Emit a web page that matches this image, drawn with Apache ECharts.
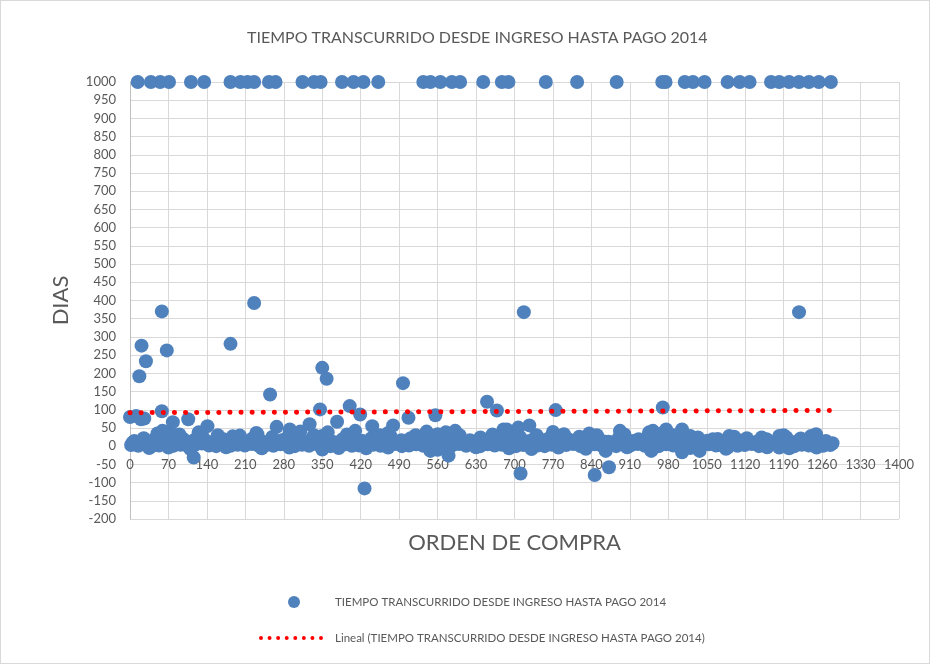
<!DOCTYPE html>
<html>
<head>
<meta charset="utf-8">
<script src="https://cdn.jsdelivr.net/npm/echarts@6/dist/echarts.min.js"></script>
<style type="text/css">
    *{
        padding: 0;
        margin: 0;
    }
    body{
        background: #fff;
        overflow: hidden;
    }
    #chart{
        width: 930px;
        height: 664px;
        box-sizing: border-box;
        border: 1px solid #d9d9d9;
    }
</style>
</head>
<body>
<div id="chart"></div>
<script type="text/javascript">
    // orden de compra con 1000 dias (sin pago)
    let topX = [14, 38, 55, 71, 111, 135, 183, 201, 214, 226, 253, 265, 314, 335, 347, 386, 407, 425, 452,
        534, 547, 565, 586, 601, 643, 677, 689, 757, 814, 886, 969, 975, 1010, 1025, 1046, 1088, 1110, 1128,
        1167, 1182, 1200, 1218, 1236, 1254, 1276];

    // valores altos / bajos fuera de la banda
    let outlierPts = [[0, 80], [11, 83], [20, 74], [26, 76], [17, 192], [21, 276], [29, 233], [58, 370], [58, 96],
        [67, 263], [226, 393], [183, 281], [255, 142], [350, 215], [358, 185], [346, 101], [497, 173], [400, 110],
        [419, 87], [427, -116], [650, 122], [668, 98], [116, -31], [580, -26], [547, -13], [106, 74], [78, 66],
        [141, 55], [267, 53], [377, 67], [507, 78], [556, 85], [479, 57], [441, 55], [291, 46], [327, 60],
        [592, 42], [680, 46], [59, 42], [232, 33], [717, 368], [1218, 368], [775, 99], [970, 106], [711, -75],
        [846, -79], [872, -58], [727, 57], [707, 51], [892, 42], [836, 35], [770, 39], [1005, 46], [952, 42],
        [976, 46], [1091, 28], [1182, 28], [1249, 33], [1221, 21], [1005, -17], [949, -13], [866, -13],
        [731, -8], [1037, -13], [1088, -4], [1182, -4], [1279, 8], [749, 15], [813, 10], [919, 15], [1061, 19], [686, 46]];

    // banda principal (0 a 45 dias)
    let bandLow = [[2, 3], [15, 1], [28, 5], [40, 0], [53, 2], [66, 6], [79, 1], [92, 4], [105, 0], [118, 3], [131, 7],
        [144, 2], [157, 0], [170, 5], [183, 1], [196, 4], [209, 2], [222, 6], [235, 0], [248, 3], [261, 1], [274, 5],
        [287, 2], [300, 0], [313, 4], [326, 1], [339, 6], [352, 2], [365, 0], [378, 3], [391, 5], [404, 1], [417, 2],
        [430, 0], [443, 4], [456, 1], [469, 3], [482, 6], [495, 0], [508, 2], [521, 5], [534, 1], [547, 3], [560, 0],
        [573, 4], [586, 2], [599, 6], [612, 1], [625, 3], [638, 0], [651, 5], [664, 2], [677, 4], [690, 1], [703, 0],
        [716, 3], [729, 5], [742, 2], [755, 0], [768, 4], [781, 1], [794, 3], [807, 6], [820, 0], [833, 2], [846, 5],
        [859, 1], [872, 3], [885, 0], [898, 4], [911, 2], [924, 6], [937, 1], [950, 3], [963, 0], [976, 5], [989, 2],
        [1002, 4], [1015, 1], [1028, 0], [1041, 3], [1054, 5], [1067, 2], [1080, 0], [1093, 4], [1106, 1], [1119, 3],
        [1132, 6], [1145, 0], [1158, 2], [1171, 5], [1184, 1], [1197, 3], [1210, 0], [1223, 4], [1236, 2], [1249, 6],
        [1262, 1], [1275, 3]];
    let bandFill = [[5, 10], [21, 8], [34, 12], [47, 9], [59, 11], [73, 8], [86, 13], [99, 9], [112, 11], [126, 10],
        [139, 12], [151, 8], [164, 11], [177, 9], [190, 12], [203, 10], [216, 8], [229, 13], [241, 9], [254, 11],
        [268, 10], [281, 8], [293, 12], [306, 9], [319, 11], [332, 10], [345, 13], [358, 8], [371, 11], [384, 9],
        [397, 12], [410, 10], [424, 8], [436, 11], [449, 9], [462, 12], [476, 10], [488, 8], [501, 13], [514, 9],
        [527, 11], [540, 10], [553, 12], [566, 8], [579, 11], [592, 9], [605, 12], [618, 10], [631, 8], [644, 11],
        [657, 9], [670, 13], [683, 10], [696, 8], [709, 11], [722, 9], [735, 12], [748, 10], [761, 8], [774, 11],
        [787, 9], [800, 12], [813, 10], [826, 8], [839, 11], [852, 9], [865, 12], [878, 10], [891, 8], [904, 11],
        [917, 9], [930, 12], [943, 10], [956, 8], [969, 11], [982, 9], [995, 12], [1008, 10], [1021, 8], [1034, 11],
        [1047, 9], [1060, 12], [1073, 10], [1086, 8], [1099, 11], [1112, 9], [1125, 12], [1138, 10], [1151, 8],
        [1164, 11], [1177, 9], [1190, 12], [1203, 10], [1216, 8], [1229, 11], [1242, 9], [1255, 12], [1268, 10]];
    let bandMid = [[8, 14], [25, 22], [44, 18], [61, 26], [80, 12], [97, 20], [116, 16], [133, 24], [152, 13], [170, 19],
        [187, 27], [206, 15], [223, 21], [242, 12], [259, 25], [278, 17], [295, 23], [314, 14], [331, 20], [350, 28],
        [367, 13], [386, 18], [403, 24], [422, 15], [439, 21], [458, 12], [475, 26], [494, 16], [511, 22], [530, 14],
        [547, 19], [566, 27], [583, 13], [602, 20], [619, 16], [638, 24], [655, 12], [674, 21], [691, 17], [710, 25],
        [727, 14], [746, 19], [763, 22], [782, 13], [799, 18], [818, 26], [835, 15], [854, 20], [871, 12], [890, 23],
        [907, 16], [926, 19], [943, 25], [962, 14], [979, 21], [998, 12], [1015, 18], [1034, 24], [1051, 15], [1070, 20],
        [1087, 13], [1106, 17], [1123, 22], [1142, 12], [1159, 19], [1178, 15], [1195, 24], [1214, 13], [1231, 18],
        [1250, 22], [1267, 14]];
    let bandHigh = [[50, 35], [72, 40], [90, 32], [125, 38], [160, 30], [200, 29], [230, 36], [290, 34], [310, 40],
        [335, 30], [360, 38], [395, 32], [410, 42], [455, 30], [470, 36], [520, 30], [540, 40], [560, 33], [575, 38],
        [600, 30], [660, 32], [700, 38], [740, 30], [790, 33], [850, 30], [900, 32], [945, 38], [960, 34], [990, 30],
        [1020, 28], [1100, 26], [1150, 24], [1190, 30], [1240, 28]];
    let bandNeg = [[35, -5], [70, -4], [110, -8], [175, -3], [240, -6], [290, -4], [350, -9], [380, -5], [430, -6],
        [470, -4], [560, -10], [630, -3], [690, -6], [780, -4], [830, -7], [905, -3], [950, -8], [1020, -5], [1085, -7],
        [1160, -3], [1200, -6], [1250, -4]];

    // linea de tendencia (Excel, lineal)
    let trendPts = [[0, 92], [1276, 98]];

    let serieName = 'TIEMPO TRANSCURRIDO DESDE INGRESO HASTA PAGO 2014';
    let trendName = 'Lineal (TIEMPO TRANSCURRIDO DESDE INGRESO HASTA PAGO 2014)';

    let allPts = [];
    topX.forEach(function (x) { allPts.push([x, 1000]); });
    allPts = allPts.concat(bandLow, bandFill, bandMid, bandHigh, bandNeg, outlierPts);

    // icono de puntos rojos para la leyenda de la tendencia
    let dotsPath = 'path://';
    for (let i = 0; i < 8; i++) {
        let cx = 2 + i * 8.6;
        dotsPath += 'M' + (cx - 2) + ',2a2,2 0 1,0 4,0a2,2 0 1,0 -4,0z';
    }

    let font = 'Lato, "Open Sans", sans-serif';
    let gris = '#595959';
    let plain = function (v) { return String(v); };

    let myChart = echarts.init(document.getElementById('chart'));
    let option = {
        animation: false,
        textStyle: { fontFamily: font },
        title: {
            text: 'TIEMPO TRANSCURRIDO DESDE INGRESO HASTA PAGO 2014',
            left: 241,
            top: 24,
            textStyle: { fontFamily: font, fontSize: 16, fontWeight: 'normal', color: gris }
        },
        grid: {
            left: 129,
            right: 30,
            top: 81,
            bottom: 144
        },
        legend: [
            {
                data: [serieName],
                left: 282,
                top: 590,
                itemWidth: 12,
                itemHeight: 12,
                icon: 'circle',
                textStyle: { fontFamily: font, fontSize: 11.5, color: gris, padding: [0, 0, 0, 30] }
            },
            {
                data: [{ name: trendName, icon: dotsPath }],
                left: 253,
                top: 626,
                itemWidth: 64,
                itemHeight: 4,
                textStyle: { fontFamily: font, fontSize: 11.5, color: gris, padding: [0, 0, 0, 7] }
            }
        ],
        xAxis: {
            type: 'value',
            min: 0,
            max: 1400,
            interval: 70,
            name: 'ORDEN DE COMPRA',
            nameLocation: 'middle',
            nameGap: 86,
            nameTextStyle: { fontFamily: font, fontSize: 22, color: gris },
            offset: -73,
            axisLine: { onZero: false, lineStyle: { color: '#d9d9d9' } },
            axisTick: { show: false },
            axisLabel: { fontFamily: font, fontSize: 13, color: gris, margin: 12, formatter: plain },
            splitLine: { lineStyle: { color: '#d9d9d9', width: 1 } }
        },
        yAxis: {
            type: 'value',
            min: -200,
            max: 1000,
            interval: 50,
            name: 'DIAS',
            nameLocation: 'middle',
            nameRotate: 90,
            nameGap: 58,
            nameTextStyle: { fontFamily: font, fontSize: 22, color: gris },
            axisLine: { show: true, onZero: false, lineStyle: { color: '#bfbfbf' } },
            axisTick: { show: false },
            axisLabel: { fontFamily: font, fontSize: 13, color: gris, margin: 14, formatter: plain },
            splitLine: { lineStyle: { color: '#d9d9d9', width: 1 } }
        },
        series: [
            {
                name: serieName,
                type: 'scatter',
                data: allPts,
                symbol: 'circle',
                symbolSize: 14,
                itemStyle: { color: '#4f81bd', opacity: 1 },
                z: 2
            },
            {
                name: trendName,
                type: 'line',
                data: trendPts,
                symbol: 'none',
                showSymbol: false,
                itemStyle: { color: '#ff0000' },
                lineStyle: { color: '#ff0000', width: 5, type: [0.1, 11], cap: 'round' },
                z: 3
            }
        ]
    };
    myChart.setOption(option);
</script>
</body>
</html>
